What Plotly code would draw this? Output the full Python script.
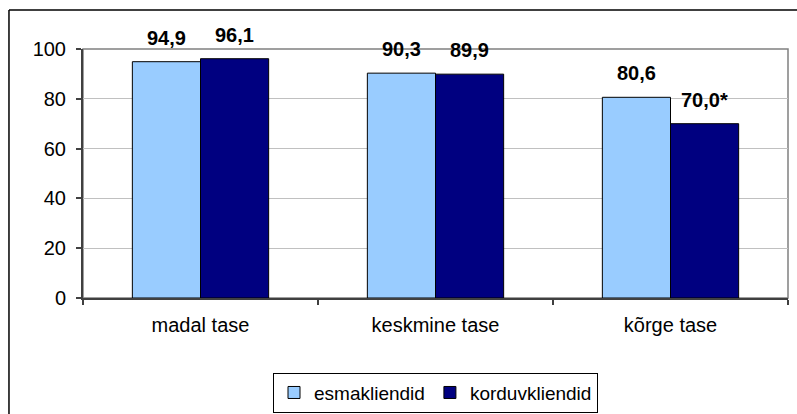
import plotly.graph_objects as go

categories = ["madal tase", "keskmine tase", "kõrge tase"]
series_names = ["esmakliendid", "korduvkliendid"]
esmakliendid = [94.9, 90.3, 80.6]
korduvkliendid = [96.1, 89.9, 70.0]
value_labels = [["94,9", "90,3", "80,6"], ["96,1", "89,9", "70,0*"]]
y_ticks = [0, 20, 40, 60, 80, 100]

colors = ["#99CCFF", "#000080"]
font_family = "Liberation Sans, Arial, sans-serif"

fig = go.Figure()
for name, vals, col in zip(series_names, [esmakliendid, korduvkliendid], colors):
    fig.add_trace(go.Bar(
        x=categories, y=vals, name=name,
        marker=dict(color=col, line=dict(color="#000000", width=1)),
    ))

# value labels above each bar
half_bar_px = 34
for s_idx, (vals, labels) in enumerate(zip([esmakliendid, korduvkliendid], value_labels)):
    shift = -half_bar_px if s_idx == 0 else half_bar_px
    for cat, v, lab in zip(categories, vals, labels):
        fig.add_annotation(
            x=cat, y=v, text=lab, showarrow=False,
            xshift=shift, yshift=24, yanchor="middle",
            font=dict(family=font_family, size=20, color="#000000", weight="bold"),
        )

# plot-area frame (grey) and outer chart frame (black)
fig.add_shape(type="rect", xref="paper", yref="paper", x0=0, y0=0, x1=1, y1=1,
              line=dict(color="#808080", width=1.5), layer="below")
fig.add_shape(type="line", xref="paper", yref="paper", x0=-0.105, y0=1.157, x1=1.02, y1=1.157,
              line=dict(color="#000000", width=1.5))
fig.add_shape(type="line", xref="paper", yref="paper", x0=-0.105, y0=1.157, x1=-0.105, y1=-0.6,
              line=dict(color="#000000", width=1.5))

fig.update_layout(
    width=797, height=414,
    margin=dict(l=83, r=9, t=49, b=116, autoexpand=False),
    paper_bgcolor="#FFFFFF", plot_bgcolor="#FFFFFF",
    barmode="group", bargap=0.42, bargroupgap=0,
    font=dict(family=font_family, size=20, color="#000000"),
    showlegend=True,
    legend=dict(
        orientation="h", x=0.5, xanchor="center", y=-0.38, yanchor="middle",
        bordercolor="#000000", borderwidth=1, bgcolor="#FFFFFF",
        font=dict(family=font_family, size=19, color="#000000"),
        itemwidth=30,
    ),
    xaxis=dict(
        type="category", showline=True, linecolor="#404040", linewidth=2,
        ticks="outside", tickson="boundaries", ticklen=5, tickcolor="#404040", tickwidth=1.5,
        showgrid=False, ticklabelstandoff=8,
    ),
    yaxis=dict(
        range=[0, 100], tickvals=y_ticks, showline=True, linecolor="#404040", linewidth=2,
        ticks="outside", ticklen=5, tickcolor="#404040", tickwidth=1.5,
        showgrid=True, gridcolor="#C0C0C0", gridwidth=1, zeroline=False,
        ticklabelstandoff=6,
    ),
)

fig.write_html("out.html")
